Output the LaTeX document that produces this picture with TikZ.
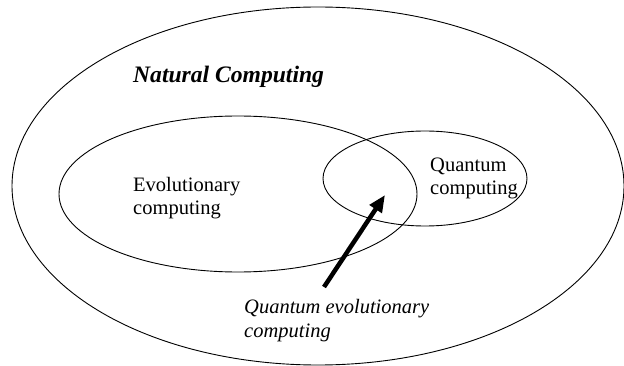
\documentclass[tikz,border=0pt]{standalone}
\usepackage{fontspec}
\setmainfont{Liberation Serif}
\usetikzlibrary{arrows.meta}
\begin{document}
\begin{tikzpicture}[x=1pt,y=-1pt,
  setline/.style={draw=black,line width=0.9pt},
  lbl/.style={anchor=base west,align=left,inner sep=0pt,font=\fontsize{20.5}{23}\selectfont},
  bigarrow/.style={line width=4.5pt,-{Triangle[length=17pt,width=14pt]}}]
\useasboundingbox (0,0) rectangle (624,366);
\draw[setline] (318,186) ellipse [x radius=306pt, y radius=179pt];
\draw[setline] (238,194) ellipse [x radius=179pt, y radius=78pt];
\draw[setline] (425,178.5) ellipse [x radius=102pt, y radius=47.5pt];
\node[anchor=base west,inner sep=0pt,font=\fontsize{23.6}{26}\selectfont\bfseries\itshape] (nat) at (133,83) {Natural Computing};
\node[lbl] (evo) at (133,215) {Evolutionary\\computing};
\node[lbl] (qc) at (430,195) {Quantum\\computing};
\node[lbl,font=\fontsize{20.5}{24}\selectfont\itshape] (qec) at (244,337) {Quantum evolutionary\\computing};
\coordinate (tail) at (324,287);
\coordinate (tip) at (385,195);
\draw[bigarrow] (tail) -- (tip);
\end{tikzpicture}
\end{document}
